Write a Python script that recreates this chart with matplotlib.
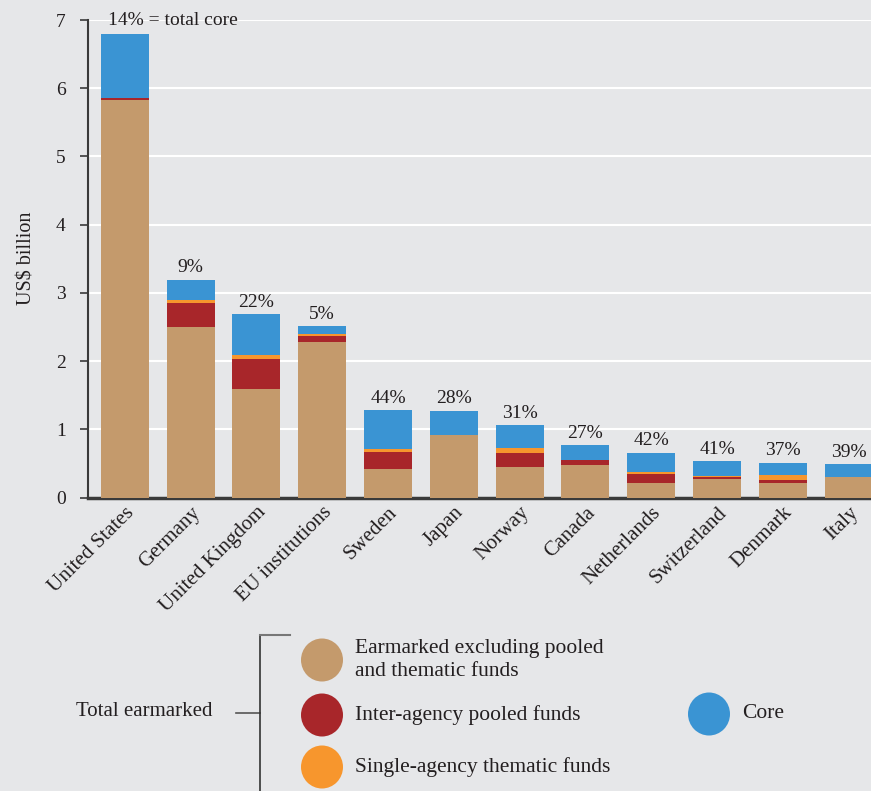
import numpy as np
import matplotlib
matplotlib.use("Agg")
import matplotlib.pyplot as plt
from matplotlib.patches import Ellipse

# data (US$ billion)
countries = ["United States", "Germany", "United Kingdom", "EU institutions", "Sweden", "Japan",
             "Norway", "Canada", "Netherlands", "Switzerland", "Denmark", "Italy"]
earmarked_excl = [5.83, 2.50, 1.59, 2.28, 0.42, 0.91, 0.45, 0.48, 0.21, 0.27, 0.21, 0.30]
pooled = [0.03, 0.35, 0.44, 0.09, 0.25, 0.00, 0.20, 0.07, 0.135, 0.035, 0.05, 0.00]
thematic = [0.00, 0.05, 0.06, 0.02, 0.04, 0.00, 0.08, 0.00, 0.03, 0.015, 0.07, 0.00]
core = [0.94, 0.29, 0.60, 0.12, 0.57, 0.36, 0.33, 0.22, 0.28, 0.21, 0.18, 0.19]
pct_labels = ["14%", "9%", "22%", "5%", "44%", "28%", "31%", "27%", "42%", "41%", "37%", "39%"]

BG = "#E6E7E9"
C_BROWN = "#C49A6C"
C_RED = "#A8262A"
C_ORANGE = "#F7962D"
C_BLUE = "#3A94D3"
TXT = "#231F20"

plt.rcParams["font.family"] = ["Liberation Serif", "DejaVu Serif"]

fig = plt.figure(figsize=(8.71, 7.91), dpi=100, facecolor=BG)
ax = fig.add_axes([88 / 871, (791 - 497.5) / 791, 1 - 88 / 871, (497.5 - 20) / 791])
ax.set_facecolor(BG)

x = np.arange(len(countries))
w = 0.73
b = np.zeros(len(countries))
for vals, c in [(earmarked_excl, C_BROWN), (pooled, C_RED), (thematic, C_ORANGE), (core, C_BLUE)]:
    ax.bar(x, vals, w, bottom=b, color=c, zorder=3, linewidth=0)
    b = b + np.array(vals)

for i, (tot, lab) in enumerate(zip(b, pct_labels)):
    if i == 0:
        ax.text(i - 0.25, tot + 0.07, lab + " = total core", fontsize=14, color=TXT,
                ha="left", va="bottom")
    else:
        ax.text(i, tot + 0.05, lab, fontsize=14, color=TXT, ha="center", va="bottom")

ax.set_xlim(-0.56, 11.34)
ax.set_ylim(0, 7)
ax.set_yticks(range(8))
ax.yaxis.grid(True, color="white", linewidth=1.5, zorder=0)
ax.set_axisbelow(True)
for s in ["top", "right"]:
    ax.spines[s].set_visible(False)
ax.spines["left"].set_color("#3a3a3a")
ax.spines["left"].set_linewidth(1.5)
ax.spines["bottom"].set_color("#3a3a3a")
ax.spines["bottom"].set_linewidth(2.5)
ax.tick_params(axis="y", length=6, width=1.2, color="#3a3a3a", labelsize=14, labelcolor=TXT, pad=10)
ax.tick_params(axis="x", length=0, pad=4)
ax.set_xticks(x)
ax.set_xticklabels(countries, rotation=45, ha="right", rotation_mode="anchor",
                   fontsize=15, color=TXT)
ax.set_ylabel("US$ billion", fontsize=14.5, color=TXT, labelpad=14)

# legend drawn in pixel coordinates
lg = fig.add_axes([0, 0, 1, 1], facecolor="none")
lg.set_xlim(0, 871)
lg.set_ylim(791, 0)
lg.axis("off")
lg.plot([236, 260], [713, 713], color="#555555", lw=1.2)
lg.plot([260, 260], [635, 791], color="#333333", lw=1.2)
lg.plot([260, 290], [635, 635], color="#777777", lw=1.5)
lg.text(76, 712, "Total earmarked", fontsize=15, color=TXT, va="center", ha="left")
items = [(322, 660, C_BROWN, "Earmarked excluding pooled\nand thematic funds"),
         (322, 715, C_RED, "Inter-agency pooled funds"),
         (322, 767, C_ORANGE, "Single-agency thematic funds"),
         (709, 714, C_BLUE, "Core")]
for cx, cy, c, t in items:
    lg.add_patch(Ellipse((cx, cy), 42, 43, color=c, lw=0))
    lg.text(cx + 33, cy, t, fontsize=15.5, color=TXT, va="center", ha="left", linespacing=1.25)

fig.savefig("out.png", dpi=100, facecolor=BG)
